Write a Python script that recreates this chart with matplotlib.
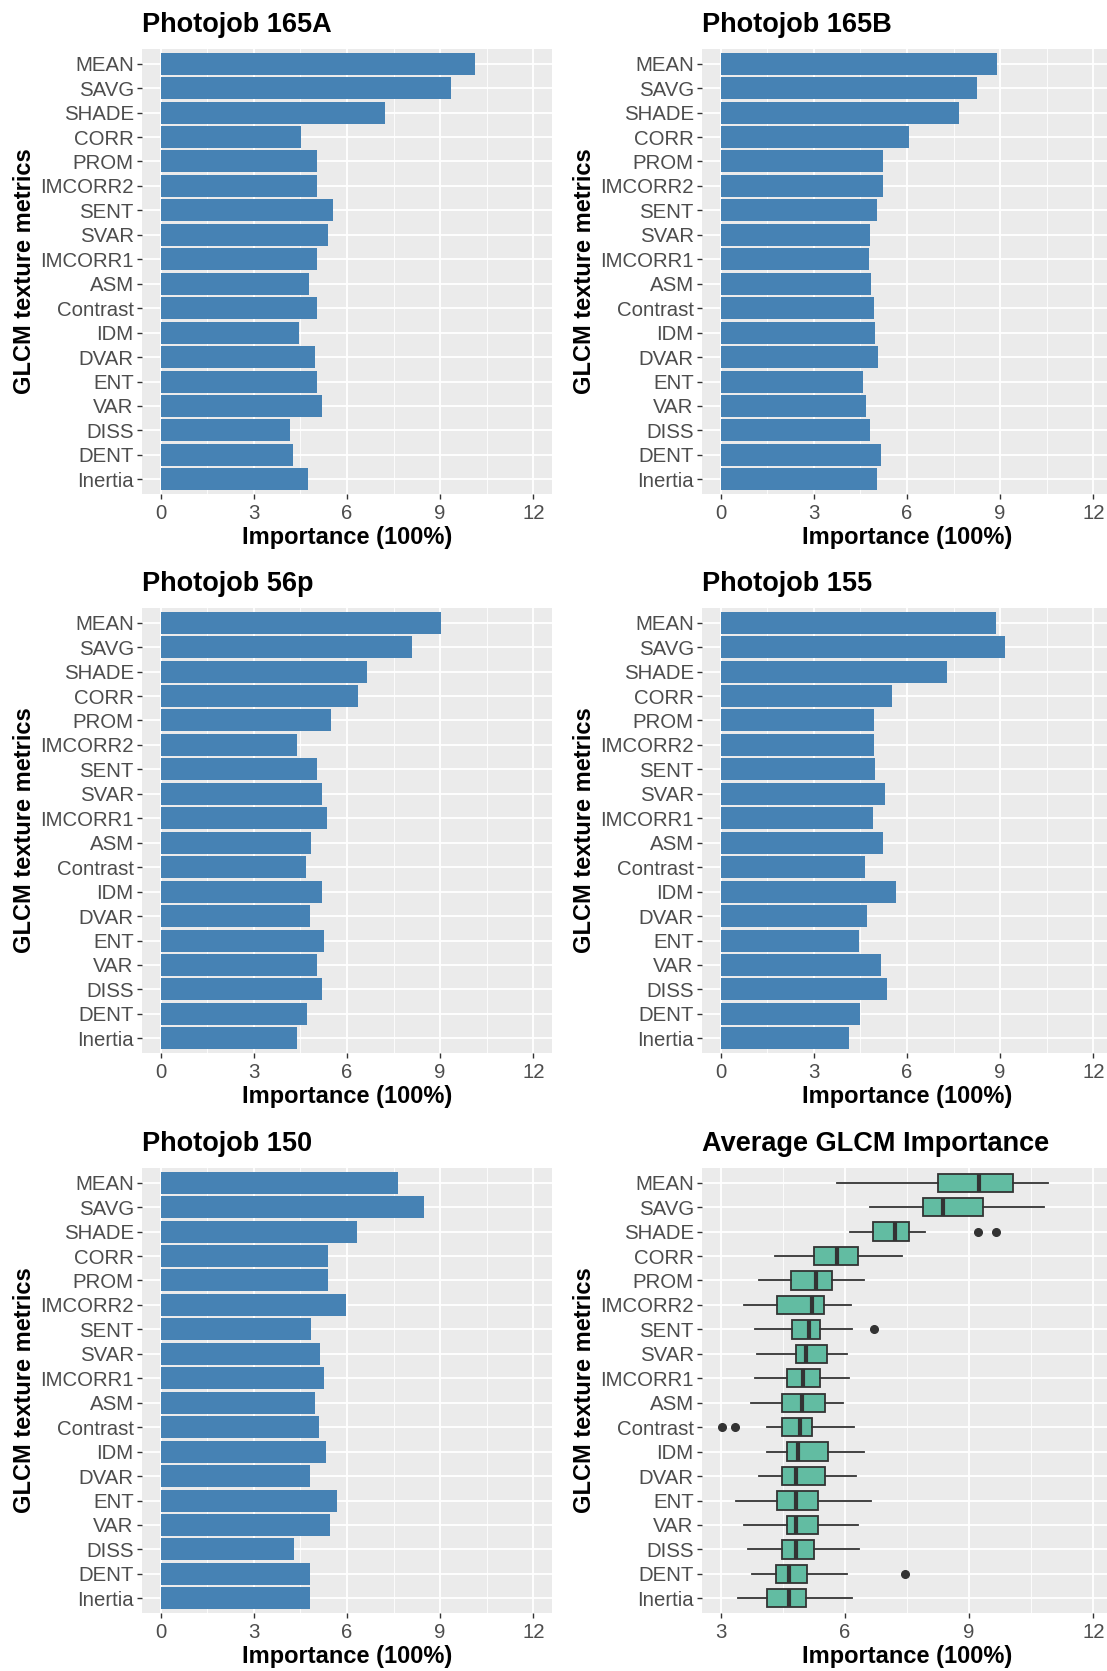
import matplotlib.pyplot as plt
from matplotlib.ticker import FixedLocator

plt.rcParams['font.family'] = ['Liberation Sans', 'DejaVu Sans']

metrics = ['MEAN', 'SAVG', 'SHADE', 'CORR', 'PROM', 'IMCORR2', 'SENT', 'SVAR',
           'IMCORR1', 'ASM', 'Contrast', 'IDM', 'DVAR', 'ENT', 'VAR', 'DISS',
           'DENT', 'Inertia']

# importance per photojob, same order as metrics
job_165A = [10.13, 9.35, 7.21, 4.53, 5.04, 5.02, 5.54, 5.39, 5.04, 4.79,
            5.03, 4.47, 4.98, 5.03, 5.19, 4.17, 4.27, 4.75]
job_165B = [8.90, 8.24, 7.67, 6.05, 5.22, 5.22, 5.02, 4.80, 4.78, 4.84,
            4.94, 4.97, 5.07, 4.58, 4.68, 4.82, 5.17, 5.02]
job_56p = [9.03, 8.08, 6.65, 6.35, 5.48, 4.38, 5.04, 5.19, 5.36, 4.84,
           4.67, 5.21, 4.81, 5.27, 5.04, 5.19, 4.70, 4.40]
job_155 = [8.87, 9.14, 7.28, 5.52, 4.94, 4.94, 4.98, 5.29, 4.91, 5.22,
           4.65, 5.65, 4.72, 4.46, 5.16, 5.34, 4.48, 4.13]
job_150 = [7.64, 8.48, 6.31, 5.38, 5.40, 5.98, 4.83, 5.13, 5.26, 4.96,
           5.10, 5.33, 4.81, 5.68, 5.44, 4.30, 4.80, 4.80]

# average importance boxplot summary
box_lo = [5.81, 6.60, 6.12, 4.32, 3.93, 3.57, 3.82, 3.89, 3.82, 3.74,
          4.11, 4.11, 3.93, 3.36, 3.57, 3.65, 3.75, 3.41]
box_q1 = [8.26, 7.89, 6.67, 5.25, 4.70, 4.35, 4.73, 4.83, 4.60, 4.49,
          4.49, 4.60, 4.49, 4.35, 4.61, 4.49, 4.34, 4.13]
box_med = [9.24, 8.37, 7.20, 5.81, 5.30, 5.21, 5.13, 5.07, 5.00, 4.97,
           4.91, 4.88, 4.83, 4.83, 4.83, 4.83, 4.65, 4.65]
box_q3 = [10.05, 9.33, 7.54, 6.32, 5.70, 5.49, 5.41, 5.57, 5.41, 5.51,
          5.21, 5.59, 5.51, 5.35, 5.35, 5.25, 5.08, 5.06]
box_hi = [10.91, 10.81, 7.94, 7.39, 6.46, 6.14, 6.16, 6.06, 6.11, 5.95,
          6.21, 6.46, 6.27, 6.63, 6.31, 6.35, 6.05, 6.16]
box_out = [[], [], [9.22, 9.66], [], [], [], [6.70], [], [], [],
           [3.04, 3.34], [], [], [], [], [], [7.46], []]

W, H = 1107, 1671
fig = plt.figure(figsize=(W / 100, H / 100), dpi=100)

BG = '#EBEBEB'
TXT = '#4D4D4D'


def panel(x0, y0, w=410, h=445):
    return fig.add_axes([x0 / W, 1 - (y0 + h) / H, w / W, h / H])


def style(ax, title, xlim, xticks, minor):
    n = len(metrics)
    ax.set_facecolor(BG)
    for s in ax.spines.values():
        s.set_visible(False)
    ax.set_xlim(*xlim)
    ax.set_ylim(n - 1 + 0.6, -0.6)
    ax.set_yticks(range(n))
    ax.set_yticklabels(metrics)
    ax.set_xticks(xticks)
    ax.xaxis.set_minor_locator(FixedLocator(minor))
    ax.grid(True, which='major', color='white', lw=1.3, zorder=0)
    ax.grid(True, which='minor', axis='x', color='white', lw=0.6, zorder=0)
    ax.set_axisbelow(True)
    ax.tick_params(which='major', length=3.5, width=1, color='#333333',
                   labelsize=14.7, labelcolor=TXT, pad=2.5)
    ax.tick_params(axis='x', which='major', pad=4)
    ax.tick_params(which='minor', length=0)
    ax.set_title(title, loc='left', fontsize=19.5, fontweight='bold', pad=12)
    ax.set_xlabel('Importance (100%)', fontsize=17, fontweight='bold')
    ax.set_ylabel('GLCM texture metrics', fontsize=17, fontweight='bold')
    ax.xaxis.set_label_coords(0.5, -0.072)
    ax.yaxis.set_label_coords(-0.258, 0.5)


jobs = [('Photojob 165A', job_165A), ('Photojob 165B', job_165B),
        ('Photojob 56p', job_56p), ('Photojob 155', job_155),
        ('Photojob 150', job_150)]
lefts = [142, 702]
tops = [49, 608, 1168]

for i, (title, vals) in enumerate(jobs):
    ax = panel(lefts[i % 2], tops[i // 2])
    ax.barh(range(len(metrics)), vals, height=0.9, color='#4682B4', zorder=2)
    style(ax, title, (-0.6, 12.6), [0, 3, 6, 9, 12], [1.5, 4.5, 7.5, 10.5])

ax = panel(lefts[1], tops[2])
stats = []
for k in range(len(metrics)):
    stats.append(dict(med=box_med[k], q1=box_q1[k], q3=box_q3[k],
                      whislo=box_lo[k], whishi=box_hi[k], fliers=box_out[k]))
ax.bxp(stats, positions=range(len(metrics)), vert=False, widths=0.75,
       showcaps=False, patch_artist=True,
       boxprops=dict(facecolor='#62BCA2', edgecolor='#333333', lw=1.3),
       medianprops=dict(color='#333333', lw=3),
       whiskerprops=dict(color='#333333', lw=1.3),
       flierprops=dict(marker='o', markerfacecolor='#333333',
                       markeredgecolor='#333333', markersize=5.5),
       zorder=2)
style(ax, 'Average GLCM Importance', (2.55, 12.45), [3, 6, 9, 12],
      [4.5, 7.5, 10.5])

fig.savefig('out.png', dpi=100)
